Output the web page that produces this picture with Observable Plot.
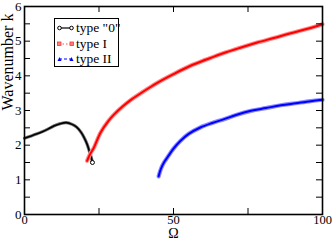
<!DOCTYPE html>
<html>
<head>
<meta charset="utf-8">
<script src="https://cdn.jsdelivr.net/npm/d3@7"></script>
<script src="https://cdn.jsdelivr.net/npm/@observablehq/plot@0.6"></script>
<style>
  html, body { margin: 0; padding: 0; background: #fff; }
  #wrap { position: relative; width: 332px; height: 241px; font-family: "Liberation Serif", serif; }
  #legend { position: absolute; left: 54px; top: 18px; width: 63px; height: 47px; border: 1px solid #000; background: #fff; font-size: 13.5px; }
  #legend .row { position: absolute; left: 2px; height: 16px; display: flex; align-items: center; white-space: nowrap; }
  #legend svg { margin-right: 2px; }
</style>
</head>
<body>
<div id="wrap"></div>
<script>
// ---- data ----
const series = ["type \"0\"", "type I", "type II"];
const colors = ["#000000", "#ff0000", "#0000ff"];
const haloColors = ["#777777", "#ff8a8a", "#8a8aff"];

const omega0 = [0, 2, 4, 6, 8, 10, 12, 14, 16, 17.5, 19, 20, 21, 21.8, 22.4, 22.8];
const k0     = [2.2, 2.26, 2.32, 2.39, 2.47, 2.56, 2.62, 2.65, 2.6, 2.52, 2.37, 2.22, 2.03, 1.82, 1.65, 1.5];

const omega1 = [21, 22, 23.3, 25.5, 28, 30, 33, 35.6, 38, 41.2, 45, 50, 55.7, 61, 66.9, 72, 78.1, 84, 89.3, 95, 100];
const k1     = [1.55, 1.74, 1.93, 2.36, 2.68, 2.88, 3.12, 3.30, 3.44, 3.62, 3.82, 4.05, 4.29, 4.47, 4.66, 4.80, 4.96, 5.10, 5.23, 5.36, 5.49];

const omega2 = [45, 45.8, 46.8, 48, 50, 52.3, 55, 59, 63, 67, 71, 76, 81, 86, 91, 96, 100];
const k2     = [1.10, 1.32, 1.50, 1.65, 1.9, 2.12, 2.32, 2.51, 2.64, 2.75, 2.87, 2.99, 3.07, 3.15, 3.21, 3.27, 3.31];

const xTickLabels = [0, 50, 100];
const xTicks = [0, 25, 50, 75, 100];
const yTickLabels = [0, 1, 2, 3, 4, 5, 6];
const yTicks = [0, 0.5, 1, 1.5, 2, 2.5, 3, 3.5, 4, 4.5, 5, 5.5, 6];

// ---- build table ----
const rows = [];
[[omega0, k0], [omega1, k1], [omega2, k2]].forEach(([xs, ks], s) => {
  xs.forEach((x, i) => rows.push({series: series[s], omega: x, k: ks[i]}));
});

const W = 332, H = 241;
const mL = 24, mR = 10, mT = 6, mB = 27;
const fw = W - mL - mR, fh = H - mT - mB;
const major = 6;

const marks = [];
series.forEach((s, i) => {
  const d = rows.filter(r => r.series === s);
  marks.push(Plot.line(d, {x: "omega", y: "k", stroke: haloColors[i], strokeWidth: i === 0 ? 3.2 : 4.2, curve: "catmull-rom"}));
  marks.push(Plot.line(d, {x: "omega", y: "k", stroke: colors[i], strokeWidth: i === 0 ? 1.6 : 2, curve: "catmull-rom"}));
});
const blackEnd = rows.filter(r => r.series === series[0]).slice(-1);
marks.push(Plot.dot(blackEnd, {x: "omega", y: "k", r: 2, stroke: "#000", fill: "#fff", strokeWidth: 1}));

// inward ticks
marks.push(Plot.tickX(xTicks, {x: d => d, insetTop: fh - major, stroke: "#000", strokeWidth: 1}));
marks.push(Plot.tickX(xTicks, {x: d => d, insetBottom: fh - major, stroke: "#000", strokeWidth: 1}));
marks.push(Plot.tickY(yTicks, {y: d => d, insetRight: fw - major, stroke: "#000", strokeWidth: 1}));
marks.push(Plot.tickY(yTicks, {y: d => d, insetLeft: fw - major, stroke: "#000", strokeWidth: 1}));

marks.push(Plot.axisX(xTickLabels, {anchor: "bottom", tickSize: 0, tickPadding: 1, label: null, fontSize: 12.5}));
marks.push(Plot.axisY(yTickLabels, {anchor: "left", tickSize: 0, tickPadding: 3, label: null, fontSize: 13}));
marks.push(Plot.frame({stroke: "#000", strokeWidth: 1.6}));
marks.push(Plot.text(["Ω"], {frameAnchor: "bottom", dy: 19.5, lineAnchor: "middle", fontSize: 14, fill: "#000"}));
marks.push(Plot.text(["Wavenumber k"], {frameAnchor: "left", rotate: -90, dx: -17, fontSize: 16, fill: "#000"}));

const chart = Plot.plot({
  width: W, height: H,
  marginLeft: mL, marginRight: mR, marginTop: mT, marginBottom: mB,
  style: {fontFamily: "Liberation Serif, serif", background: "#fff", color: "#000", overflow: "visible"},
  x: {domain: [0, 100]},
  y: {domain: [0, 6]},
  marks
});
const wrap = document.getElementById("wrap");
wrap.appendChild(chart);

// legend
const legend = document.createElement("div");
legend.id = "legend";
const markerSvg = [
  `<svg width="17" height="8"><line x1="2" y1="4" x2="15" y2="4" stroke="#000" stroke-width="1.2"/><circle cx="2.5" cy="4" r="1.8" fill="#fff" stroke="#000"/><circle cx="14.5" cy="4" r="1.8" fill="#fff" stroke="#000"/></svg>`,
  `<svg width="17" height="8"><line x1="2" y1="4" x2="15" y2="4" stroke="#ff5050" stroke-width="1.2" stroke-dasharray="1.5,2"/><rect x="0.5" y="2" width="3.5" height="3.5" fill="#ff8080" stroke="#ff3030" stroke-width="0.8"/><rect x="13" y="2" width="3.5" height="3.5" fill="#ff8080" stroke="#ff3030" stroke-width="0.8"/></svg>`,
  `<svg width="17" height="8"><line x1="2" y1="4" x2="15" y2="4" stroke="#0000ff" stroke-width="1.2" stroke-dasharray="3,2"/><path d="M0.5,6L2.5,2L4.5,6Z" fill="#0000ff"/><path d="M12.5,6L14.5,2L16.5,6Z" fill="#0000ff"/></svg>`
];
series.forEach((s, i) => {
  const row = document.createElement("div");
  row.className = "row";
  row.style.top = (1 + i * 15.5) + "px";
  row.innerHTML = markerSvg[i] + `<span>${s.replace(/"/g, "&quot;")}</span>`;
  legend.appendChild(row);
});
wrap.appendChild(legend);
</script>
</body>
</html>
